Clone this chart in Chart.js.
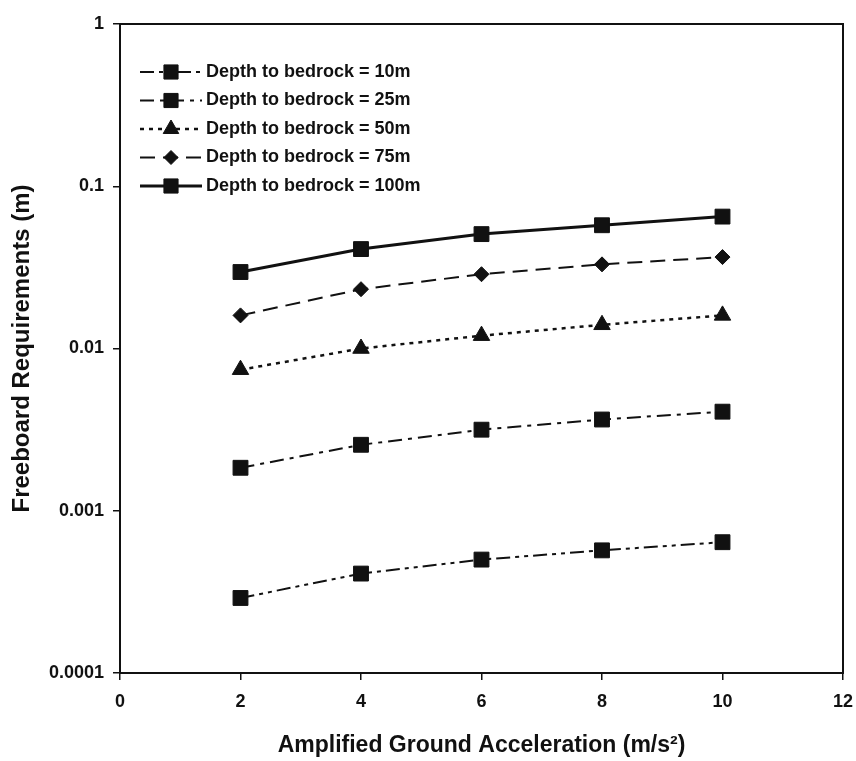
<!DOCTYPE html>
<html>
<head>
<meta charset="utf-8">
<script src="https://cdn.jsdelivr.net/npm/chart.js@4.4.0/dist/chart.umd.min.js"></script>
<style>
body { margin:0; background:#fff; }
#wrap { width:856px; height:761px; }
</style>
</head>
<body>
<div id="wrap"><canvas id="chart" width="856" height="761"></canvas></div>
<script>
// values (log scale)
let accel = [2, 4, 6, 8, 10];
let depth10 = [0.00029, 0.00041, 0.00050, 0.00057, 0.00064];
let depth25 = [0.00184, 0.00255, 0.00316, 0.00365, 0.00408];
let depth50 = [0.0074, 0.0100, 0.0120, 0.0140, 0.0160];
let depth75 = [0.0160, 0.0232, 0.0287, 0.0330, 0.0366];
let depth100 = [0.0296, 0.0410, 0.0507, 0.0575, 0.0650];
let seriesNames = ['Depth to bedrock = 10m', 'Depth to bedrock = 25m', 'Depth to bedrock = 50m', 'Depth to bedrock = 75m', 'Depth to bedrock = 100m'];
let xTicks = [0, 2, 4, 6, 8, 10, 12];
let yTicks = [0.0001, 0.001, 0.01, 0.1, 1];

const ink = '#111';
const fontFam = '"Liberation Sans", Arial, sans-serif';

function pts(vals) {
    return accel.map((x, i) => ({x: x, y: vals[i]}));
}

function makeSet(i, vals, dash, width, style, radius) {
    return {
        label: seriesNames[i],
        data: pts(vals),
        borderColor: ink,
        backgroundColor: ink,
        borderWidth: width,
        borderDash: dash,
        pointStyle: style,
        pointRadius: radius,
        pointBackgroundColor: ink,
        pointBorderColor: ink,
        pointBorderWidth: 1,
        tension: 0
    };
}

// legend with line samples, like the spreadsheet one
const legendLines = {
    id: 'legendLines',
    afterDatasetsDraw(chart) {
        const ctx = chart.ctx;
        chart.data.datasets.forEach((ds, i) => {
            let y = 72 + i * 28.5;
            ctx.save();
            ctx.strokeStyle = ink;
            ctx.lineWidth = ds.borderWidth;
            ctx.setLineDash(ds.borderDash || []);
            ctx.beginPath();
            ctx.moveTo(140, y);
            ctx.lineTo(202, y);
            ctx.stroke();
            ctx.setLineDash([]);
            ctx.fillStyle = ink;
            ctx.lineWidth = 1;
            let r = ds.pointStyle === 'rectRot' ? 7 : ds.pointRadius - 0.5;
            Chart.helpers.drawPoint(ctx, {pointStyle: ds.pointStyle, radius: r, rotation: 0, borderWidth: 1}, 171, y);
            ctx.font = 'bold 18px ' + fontFam;
            ctx.textBaseline = 'middle';
            ctx.textAlign = 'left';
            ctx.fillText(ds.label, 206, y);
            ctx.restore();
        });
    }
};

const frame = {
    id: 'frame',
    afterDraw(chart) {
        const a = chart.chartArea;
        const ctx = chart.ctx;
        ctx.save();
        ctx.strokeStyle = ink;
        ctx.lineWidth = 2;
        ctx.strokeRect(a.left, a.top, a.right - a.left, a.bottom - a.top);
        ctx.restore();
    }
};

new Chart(document.getElementById('chart'), {
    type: 'line',
    data: {
        datasets: [
            makeSet(0, depth10, [14, 5, 4, 5, 4, 5], 2, 'rect', 10.5),
            makeSet(1, depth25, [14, 6, 4, 6], 2, 'rect', 10.5),
            makeSet(2, depth50, [4, 5], 2.5, 'triangle', 9.5),
            makeSet(3, depth75, [15, 8], 2, 'rectRot', 7.5),
            makeSet(4, depth100, [], 3, 'rect', 10.5)
        ]
    },
    options: {
        responsive: false,
        animation: false,
        layout: { padding: { top: 24, right: 13, left: 0, bottom: 0 } },
        plugins: { legend: { display: false }, tooltip: { enabled: false } },
        scales: {
            x: {
                type: 'linear',
                min: 0, max: 12,
                afterBuildTicks: s => { s.ticks = xTicks.map(v => ({value: v})); },
                afterFit: s => { s.height = 88; s.paddingRight = 0; s.paddingLeft = 0; },
                ticks: { color: ink, font: { family: fontFam, size: 18, weight: 'bold' }, padding: 11, maxRotation: 0 },
                grid: { drawOnChartArea: false, drawTicks: true, tickLength: 7, color: ink, lineWidth: 1.5 },
                border: { color: ink, width: 2 },
                title: { display: true, text: 'Amplified Ground Acceleration (m/s²)', color: ink,
                         font: { family: fontFam, size: 23, weight: 'bold' }, padding: { top: 0, bottom: 2 } }
            },
            y: {
                type: 'logarithmic',
                min: 0.0001, max: 1,
                afterBuildTicks: s => { s.ticks = yTicks.map(v => ({value: v})); },
                afterFit: s => { s.width = 120; s.paddingTop = 0; s.paddingBottom = 0; },
                ticks: { color: ink, font: { family: fontFam, size: 18, weight: 'bold' }, padding: 9,
                         callback: v => String(v) },
                grid: { drawOnChartArea: false, drawTicks: true, tickLength: 7, color: ink, lineWidth: 1.5 },
                border: { color: ink, width: 2 },
                title: { display: true, text: 'Freeboard Requirements (m)', color: ink,
                         font: { family: fontFam, size: 24, weight: 'bold' }, padding: { top: 8, bottom: 0 } }
            }
        }
    },
    plugins: [legendLines, frame]
});
</script>
</body>
</html>
